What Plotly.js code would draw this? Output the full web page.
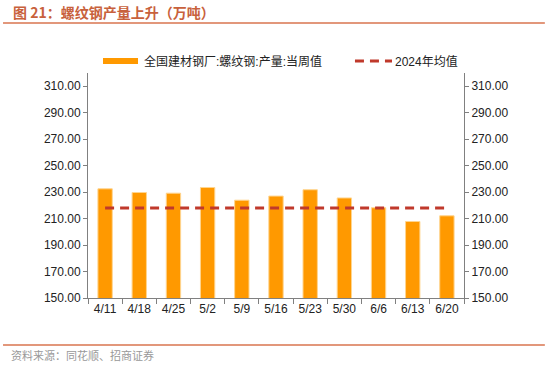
<!DOCTYPE html>
<html><head><meta charset="utf-8">
<script src="https://cdn.plot.ly/plotly-3.0.1.min.js"></script>
<style>body{margin:0;background:#fff}#c{width:550px;height:368px}</style>
</head><body><div id="c"></div>
<script>
const categories = ["4/11","4/18","4/25","5/2","5/9","5/16","5/23","5/30","6/6","6/13","6/20"];
const weeklyOutput = [232.5,229.7,229.2,233.5,223.9,227.0,231.8,225.6,218.2,207.8,212.1];
const avg2024Value = 218.0;
const avg2024 = categories.map(() => avg2024Value);
const tickVals = [150,170,190,210,230,250,270,290,310];
const tickText = tickVals.map(v => v.toFixed(2));
const seriesNames = ['全国建材钢厂:螺纹钢:产量:当周值','2024年均值'];

const cjk = '"Liberation Sans", "Noto Sans CJK SC", sans-serif';
const axisCommon = {
  range:[150,320], tickvals:tickVals, ticktext:tickText,
  showgrid:false, zeroline:false, showline:true, linecolor:'#808080', linewidth:1,
  ticks:'outside', ticklen:4, tickcolor:'#808080',
  tickfont:{family:cjk,size:12,color:'#222'}, fixedrange:true
};
const barColor = '#FF9900', lineColor = '#C0392B';
const data = [
  {type:'bar', x:categories, y:weeklyOutput, name:seriesNames[0],
   marker:{color:barColor, line:{color:'#FFD58F', width:1}}, width:0.42},
  {type:'scatter', mode:'lines', x:categories, y:avg2024, name:seriesNames[1], yaxis:'y2',
   line:{color:lineColor, width:3, dash:'9px,6px'}}
];
const layout = {
  width:550, height:368, margin:{l:88,r:86,t:73,b:70},
  paper_bgcolor:'#fff', plot_bgcolor:'#fff', showlegend:false,
  xaxis:{type:'category', showline:true, linecolor:'#808080', ticks:'outside', ticklen:5,
    tickcolor:'#808080', tickson:'boundaries', showgrid:false,
    tickfont:{family:cjk,size:12,color:'#222'}, fixedrange:true},
  yaxis:Object.assign({}, axisCommon),
  yaxis2:Object.assign({}, axisCommon, {overlaying:'y', side:'right'}),
  annotations:[
    {xref:'paper', yref:'paper', x:-0.205, y:1.271, xanchor:'left', yanchor:'middle', showarrow:false,
     text:'<b>图 21：螺纹钢产量上升（万吨）</b>', font:{family:'"Noto Sans CJK SC", sans-serif', size:14, color:'#C8613C'}},
    {xref:'paper', yref:'paper', x:-0.21, y:-0.255, xanchor:'left', yanchor:'middle', showarrow:false,
     text:'资料来源：同花顺、招商证券', font:{family:'"Noto Sans CJK SC", sans-serif', size:11, color:'#999'}},
    {xref:'paper', yref:'paper', x:0.1436, y:1.0533, xanchor:'left', yanchor:'middle', showarrow:false,
     text:seriesNames[0], font:{family:cjk, size:12, color:'#222'}},
    {xref:'paper', yref:'paper', x:0.812, y:1.0533, xanchor:'left', yanchor:'middle', showarrow:false,
     text:seriesNames[1], font:{family:cjk, size:12, color:'#222'}}
  ],
  shapes:[
    {type:'line', xref:'paper', yref:'paper', x0:-0.226, x1:1.215, y0:1.222, y1:1.222, line:{color:'#D9744F', width:1.5}},
    {type:'line', xref:'paper', yref:'paper', x0:-0.226, x1:1.215, y0:-0.209, y1:-0.209, line:{color:'#D9744F', width:1.5}},
    {type:'rect', xref:'paper', yref:'paper', x0:0.0399, x1:0.133, y0:1.04, y1:1.0667, fillcolor:barColor, line:{width:0}},
    {type:'line', xref:'paper', yref:'paper', x0:0.710, x1:0.8085, y0:1.0533, y1:1.0533, line:{color:lineColor, width:3, dash:'9px,6px'}}
  ]
};
Plotly.newPlot('c', data, layout, {displayModeBar:false, staticPlot:true});
</script></body></html>
